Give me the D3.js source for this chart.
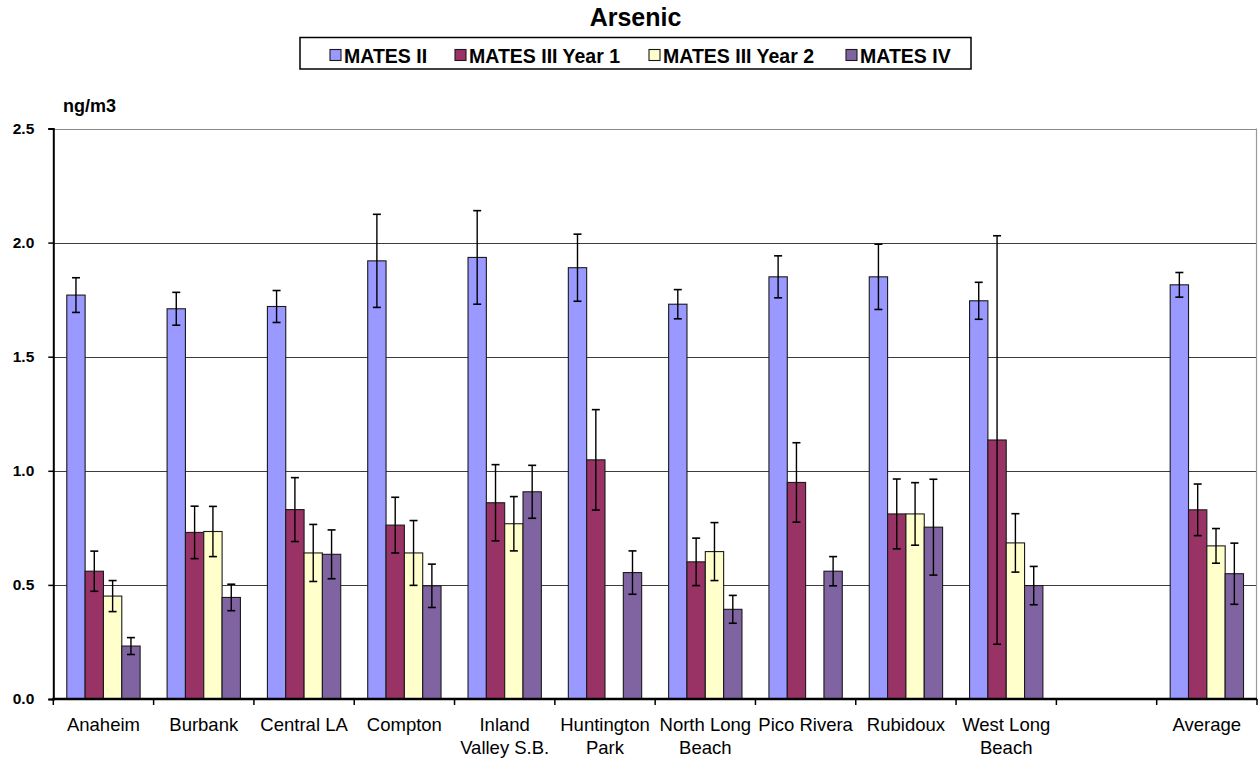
<!DOCTYPE html>
<html>
<head>
<meta charset="utf-8">
<script src="https://cdn.jsdelivr.net/npm/d3@7"></script>
<style>
  html, body { margin: 0; padding: 0; background: #fff; }
  svg { display: block; font-family: Arial, "Liberation Sans", sans-serif; }
</style>
</head>
<body>
<svg id="chart" width="1259" height="761"></svg>
<script>
// ---- data ----
const categories = ["Anaheim", "Burbank", "Central LA", "Compton", "Inland Valley S.B.", "Huntington Park",
  "North Long Beach", "Pico Rivera", "Rubidoux", "West Long Beach", "(blank)", "Average"];
const categoryLabels = [["Anaheim"], ["Burbank"], ["Central LA"], ["Compton"], ["Inland", "Valley S.B."],
  ["Huntington", "Park"], ["North Long", "Beach"], ["Pico Rivera"], ["Rubidoux"], ["West Long", "Beach"], [""], ["Average"]];
const seriesNames = ["MATES II", "MATES III Year 1", "MATES III Year 2", "MATES IV"];
const matesII      = [1.77, 1.71, 1.72, 1.92, 1.935, 1.89, 1.73, 1.85, 1.85, 1.745, null, 1.815];
const matesIIErr   = [0.076, 0.072, 0.07, 0.204, 0.205, 0.147, 0.064, 0.092, 0.143, 0.081, null, 0.054];
const matesIIIy1   = [0.56, 0.73, 0.83, 0.762, 0.86, 1.048, 0.601, 0.949, 0.811, 1.135, null, 0.829];
const matesIIIy1Err= [0.088, 0.115, 0.14, 0.122, 0.167, 0.22, 0.104, 0.174, 0.153, 0.895, null, 0.113];
const matesIIIy2   = [0.451, 0.734, 0.64, 0.64, 0.768, null, 0.646, null, 0.811, 0.684, null, 0.671];
const matesIIIy2Err= [0.068, 0.11, 0.125, 0.142, 0.119, null, 0.127, null, 0.137, 0.128, null, 0.076];
const matesIV      = [0.232, 0.445, 0.634, 0.496, 0.908, 0.554, 0.393, 0.56, 0.753, 0.497, null, 0.549];
const matesIVErr   = [0.037, 0.058, 0.107, 0.095, 0.116, 0.095, 0.061, 0.064, 0.21, 0.084, null, 0.134];
const yTicks = [0, 0.5, 1.0, 1.5, 2.0, 2.5];
const colors = ["#9999FF", "#993366", "#FFFFCC", "#8064A2"];

const seriesValues = [matesII, matesIIIy1, matesIIIy2, matesIV];
const seriesErrors = [matesIIErr, matesIIIy1Err, matesIIIy2Err, matesIVErr];

// ---- layout ----
const plot = { left: 53.3, right: 1257, top: 128.5, bottom: 699 };
const svg = d3.select("#chart");

const x0 = d3.scaleBand().domain(categories).range([plot.left, plot.right])
  .paddingInner(0.269).paddingOuter(0.1345);
const x1 = d3.scaleBand().domain(seriesNames).range([0, x0.bandwidth()]);
const y = d3.scaleLinear().domain([0, 2.5]).range([plot.bottom, plot.top]);

// gridlines
svg.append("g").selectAll("line").data(yTicks.filter(d => d > 0)).join("line")
  .attr("x1", plot.left).attr("x2", plot.right)
  .attr("y1", d => Math.round(y(d)) + 0.5).attr("y2", d => Math.round(y(d)) + 0.5)
  .attr("stroke", d => d === 2.5 ? "#8a8a8a" : "#3c3c3c").attr("stroke-width", 1.2);

// right border of plot area
svg.append("line").attr("x1", plot.right - 0.5).attr("x2", plot.right - 0.5)
  .attr("y1", y(2.5)).attr("y2", plot.bottom).attr("stroke", "#9a9a9a").attr("stroke-width", 1.2);

// bars
const rows = categories.map((c, i) => ({ c, i }));
const groups = svg.append("g").selectAll("g").data(rows).join("g")
  .attr("transform", d => `translate(${x0(d.c)},0)`);

groups.each(function (d) {
  const g = d3.select(this);
  seriesNames.forEach((s, k) => {
    const v = seriesValues[k][d.i];
    if (v == null) return;
    g.append("rect")
      .attr("x", x1(s)).attr("width", x1.bandwidth())
      .attr("y", y(v)).attr("height", y(0) - y(v))
      .attr("fill", colors[k]).attr("stroke", "#1a1a1a").attr("stroke-width", 1.1);
  });
});

groups.each(function (d) {
  const g = d3.select(this);
  seriesNames.forEach((s, k) => {
    const v = seriesValues[k][d.i];
    const e = seriesErrors[k][d.i];
    if (v == null || e == null) return;
    const cx = x1(s) + x1.bandwidth() / 2;
    const cap = 4;
    g.append("line").attr("x1", cx).attr("x2", cx).attr("y1", y(v + e)).attr("y2", y(v - e))
      .attr("stroke", "#000").attr("stroke-width", 1.4);
    [v + e, v - e].forEach(t => {
      g.append("line").attr("x1", cx - cap).attr("x2", cx + cap).attr("y1", y(t)).attr("y2", y(t))
        .attr("stroke", "#000").attr("stroke-width", 1.6);
    });
  });
});

// y axis
const yAxis = d3.axisLeft(y).tickValues(yTicks).tickFormat(d3.format(".1f")).tickSize(5).tickPadding(14);
const yg = svg.append("g").attr("transform", `translate(${plot.left},0)`).call(yAxis);
yg.select(".domain").attr("stroke", "#000").attr("stroke-width", 2);
yg.selectAll(".tick line").attr("stroke", "#000").attr("stroke-width", 1.5);
yg.selectAll(".tick text").attr("font-size", 15.5).attr("font-weight", "bold")
  .attr("font-family", "Arial, 'Liberation Sans', sans-serif").attr("fill", "#000");

// x axis (ticks at band boundaries)
const step = x0.step();
const boundaries = categories.map((c, i) => x0(c) - x0.paddingOuter() * step).concat([plot.right]);
svg.append("g").selectAll("line").data(boundaries).join("line")
  .attr("x1", d => d).attr("x2", d => d).attr("y1", plot.bottom).attr("y2", plot.bottom + 6)
  .attr("stroke", "#000").attr("stroke-width", 1.5);
svg.append("line").attr("x1", plot.left - 1).attr("x2", plot.right)
  .attr("y1", plot.bottom).attr("y2", plot.bottom).attr("stroke", "#000").attr("stroke-width", 2.5);

// x labels
const xl = svg.append("g").selectAll("text").data(rows).join("text")
  .attr("x", d => x0(d.c) + x0.bandwidth() / 2).attr("y", 731)
  .attr("text-anchor", "middle").attr("font-size", 18.5).attr("fill", "#000");
xl.each(function (d) {
  const t = d3.select(this);
  categoryLabels[d.i].forEach((line, j) => {
    t.append("tspan").attr("x", x0(d.c) + x0.bandwidth() / 2).attr("dy", j === 0 ? 0 : 23).text(line);
  });
});

// unit label
svg.append("text").attr("x", 89.5).attr("y", 111.5).attr("text-anchor", "middle")
  .attr("font-size", 18).attr("font-weight", "bold").text("ng/m3");

// title
svg.append("text").attr("x", 635.5).attr("y", 26).attr("text-anchor", "middle")
  .attr("font-size", 25).attr("font-weight", "bold").text("Arsenic");

// legend
const legendBox = { x: 300, y: 37.5, w: 671, h: 31.5 };
svg.append("rect").attr("x", legendBox.x).attr("y", legendBox.y).attr("width", legendBox.w).attr("height", legendBox.h)
  .attr("fill", "#fff").attr("stroke", "#000").attr("stroke-width", 1.5);
const legendX = [330, 455, 649, 846];
const lg = svg.append("g").selectAll("g").data(seriesNames).join("g")
  .attr("transform", (d, i) => `translate(${legendX[i]},0)`);
lg.append("rect").attr("x", 0).attr("y", 49.5).attr("width", 11).attr("height", 11)
  .attr("fill", (d, i) => colors[i]).attr("stroke", "#1a1a1a").attr("stroke-width", 1.1);
lg.append("text").attr("x", 14).attr("y", 62.5).attr("font-size", 19.5).attr("font-weight", "bold")
  .attr("fill", "#000").text(d => d);
</script>
</body>
</html>
